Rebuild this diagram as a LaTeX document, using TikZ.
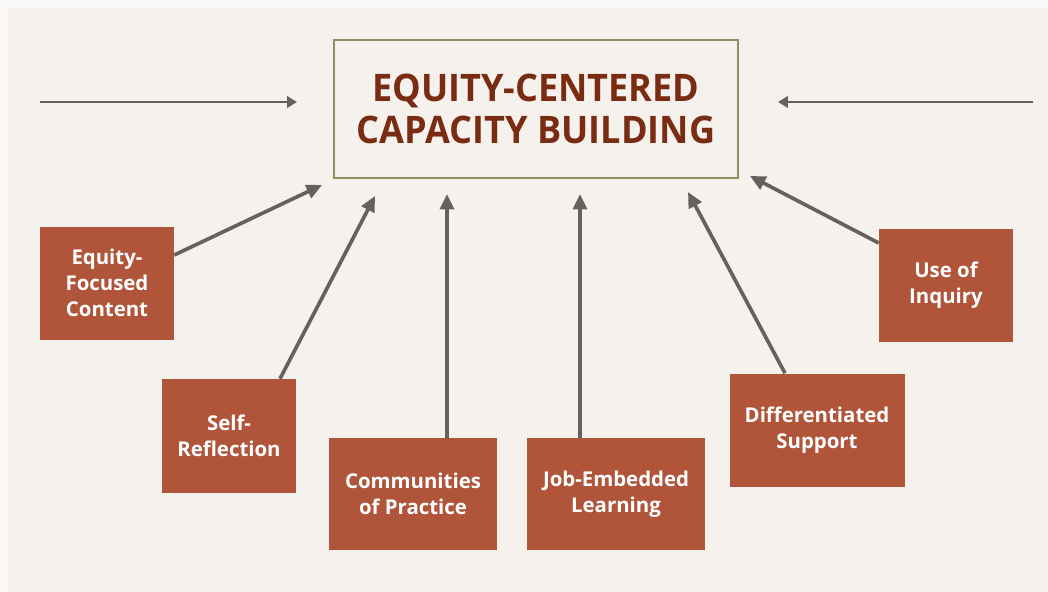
\documentclass[tikz,border=0pt]{standalone}
\usepackage{xcolor}
\usepackage{fontspec}
\setmainfont{Open Sans}
\newfontfamily\titlefont[FakeStretch=0.95]{Open Sans}
\usepackage{tikz}
\usetikzlibrary{arrows.meta}

\definecolor{pagebg}{HTML}{F5F2EE}
\definecolor{rust}{HTML}{B0543A}
\definecolor{darkrust}{HTML}{7A2C12}
\definecolor{olive}{HTML}{8C9160}
\definecolor{arrowgray}{HTML}{686060}

\begin{document}
\begin{tikzpicture}[x=0.025cm,y=-0.025cm,
    topic/.style={fill=rust,draw=none,text=white,font=\fontsize{14.5}{18.5}\selectfont\bfseries,
                  align=center,inner sep=0pt},
    feed/.style={draw=arrowgray,line width=2.6pt,-{Triangle[length=11pt,width=10pt]}},
    side/.style={draw=arrowgray,line width=2pt,-{Triangle[length=7pt,width=8pt]}}]
             \fill[white!60!pagebg] (0,0) rectangle (1048,592);
             \fill[pagebg] (8,8) rectangle (1048,592);

             % centre box
             \node[draw=olive,line width=1.2pt,minimum width=404*0.025cm,minimum height=138*0.025cm,
                   text=darkrust,font=\fontsize{27}{30}\selectfont\titlefont\bfseries,align=center]
                   (core) at (536,109) {EQUITY-CENTERED\\CAPACITY BUILDING};

             \coordinate (lin) at (40,102);
             \coordinate (lout) at (297,102);
             \coordinate (rin) at (1033,102);
             \coordinate (rout) at (778,102);
             \draw[side] (lin) -- (lout);
             \draw[side] (rin) -- (rout);

             % the six topics
             \node[topic,minimum width=134*0.025cm,minimum height=113*0.025cm] (content) at (107,283) {Equity-\\Focused\\Content};
             \node[topic,minimum width=134*0.025cm,minimum height=114*0.025cm] (reflect) at (229,436) {Self-\\Reflection};
             \node[topic,minimum width=168*0.025cm,minimum height=112*0.025cm] (practice) at (413,494) {Communities\\of Practice};
             \node[topic,minimum width=178*0.025cm,minimum height=112*0.025cm] (jobs) at (616,494) {Job-Embedded\\Learning};
             \node[topic,minimum width=175*0.025cm,minimum height=113*0.025cm] (support) at (817,430) {Differentiated\\Support};
             \node[topic,minimum width=134*0.025cm,minimum height=113*0.025cm] (inquiry) at (946,285) {Use of\\Inquiry};

             \coordinate (t1) at (322,185);
             \coordinate (t2) at (375,196);
             \coordinate (t3) at (447,194);
             \coordinate (t4) at (580,194);
             \coordinate (t5) at (688,192);
             \coordinate (t6) at (750,176);

             \draw[feed] (content.east |- 0,255) -- (t1);
             \draw[feed] (reflect.north -| 280,0) -- (t2);
             \draw[feed] (practice.north -| 447,0) -- (t3);
             \draw[feed] (jobs.north -| 580,0) -- (t4);
             \draw[feed] (support.north -| 785,0) -- (t5);
             \draw[feed] (inquiry.west |- 0,243) -- (t6);
             
             \end{tikzpicture}
\end{document}
